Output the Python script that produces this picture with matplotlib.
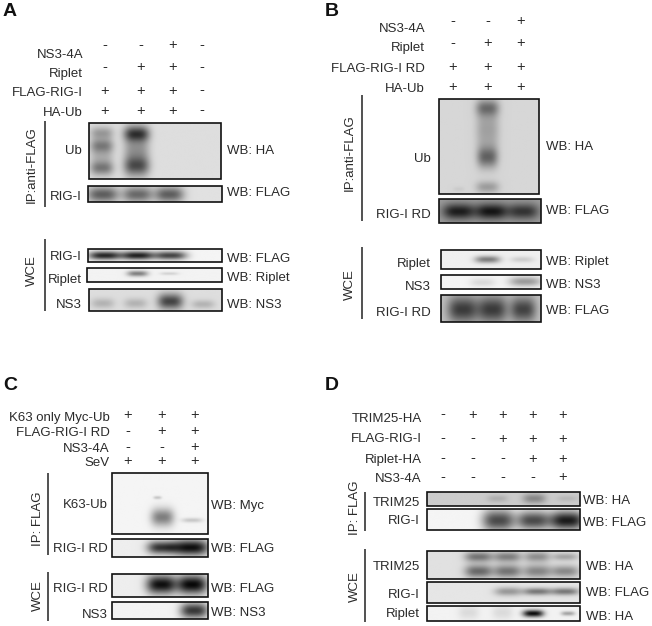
import numpy as np
import matplotlib
matplotlib.use("Agg")
import matplotlib.pyplot as plt
from matplotlib.patches import Rectangle

plt.rcParams['font.family'] = ['Liberation Sans', 'DejaVu Sans']

# (cx, cy, width, height, darkness), in reference pixels
A_UB = [(102, 133, 20, 8, .26), (102, 146, 20, 9, .3), (102, 155, 20, 26, .22), (102, 169, 20, 9, .36),
        (137, 134, 22, 10, .62), (137, 152, 22, 32, .36), (137, 167, 22, 12, .45)]
A_RIG = [(103, 195, 27, 11, .6), (138, 195, 26, 11, .55), (170, 195, 25, 11, .6)]
A_WCE_RIG = [(105, 256, 28, 6, .88), (138, 256, 28, 6, .9), (171, 256, 28, 6, .75)]
A_WCE_RIP = [(138, 274, 18, 4, .5), (170, 274, 16, 2, .15)]
A_WCE_NS3 = [(103, 304, 20, 7, .2), (136, 304, 20, 7, .2), (171, 302, 22, 11, .72), (204, 305, 20, 6, .2)]

B_UB = [(488, 108, 20, 11, .42), (488, 130, 20, 32, .26), (488, 158, 18, 14, .5), (488, 188, 20, 8, .28),
        (459, 190, 10, 3, .06)]
B_RD = [(459, 212, 28, 11, .85), (492, 212, 28, 11, .9), (524, 212, 27, 11, .7)]
B_WCE_RIP = [(488, 260, 22, 5, .5), (523, 260, 20, 4, .15)]
B_WCE_NS3 = [(483, 283, 22, 6, .12), (526, 282, 28, 7, .38)]
B_WCE_RD = [(463, 310, 26, 18, .72), (493, 310, 26, 18, .72), (524, 310, 22, 17, .68)]

C_K63 = [(163, 518, 20, 12, .5), (158, 498, 7, 2, .22), (193, 521, 18, 3, .2)]
C_RD = [(163, 548, 26, 9, .82), (192, 548, 30, 11, .97)]
C_WCE_RD = [(162, 585, 26, 13, .97), (193, 585, 26, 13, 1.0)]
C_WCE_NS3 = [(195, 611, 24, 11, .8)]

D_TRIM = [(498, 499, 18, 5, .15), (535, 499, 20, 7, .35), (568, 499, 18, 4, .1)]
D_RIG = [(499, 521, 28, 15, .72), (534, 521, 28, 13, .72), (568, 521, 30, 13, .92)]
D_WCE_TRIM = [(479, 557, 24, 7, .5), (508, 557, 24, 7, .45), (538, 557, 22, 7, .38), (566, 557, 22, 5, .28),
              (479, 572, 24, 9, .55), (508, 572, 24, 9, .5), (538, 572, 24, 9, .42), (566, 572, 24, 8, .4)]
D_WCE_RIG = [(509, 592, 24, 6, .35), (538, 592, 24, 5, .5), (566, 592, 24, 5, .5)]
D_WCE_RIP = [(469, 613, 18, 10, .1), (503, 613, 18, 10, .1), (534, 614, 18, 5, 1.0), (569, 614, 12, 3, .35)]

# x0, y0, x1, y1, background grey, bands
BLOTS = [
    (89, 123, 221, 179, .87, A_UB), (88, 186, 222, 202, .88, A_RIG),
    (88, 249, 222, 262, .96, A_WCE_RIG), (87, 268, 222, 282, .95, A_WCE_RIP),
    (89, 289, 222, 311, .87, A_WCE_NS3),
    (439, 99, 539, 194, .84, B_UB), (439, 199, 541, 223, .62, B_RD),
    (441, 250, 541, 269, .94, B_WCE_RIP), (441, 275, 541, 289, .96, B_WCE_NS3),
    (441, 295, 541, 322, .76, B_WCE_RD),
    (112, 473, 208, 534, .96, C_K63), (112, 539, 208, 557, .93, C_RD),
    (112, 574, 208, 597, .93, C_WCE_RD), (112, 602, 208, 619, .95, C_WCE_NS3),
    (427, 492, 580, 506, .8, D_TRIM), (427, 509, 580, 530, .96, D_RIG),
    (427, 551, 580, 579, .88, D_WCE_TRIM), (427, 582, 580, 603, .9, D_WCE_RIG),
    (427, 606, 580, 621, .95, D_WCE_RIP),
]

# right edge x, label/y, then sign columns
A_SIGN_X = [105, 141, 173, 202]
A_ROWS = [("NS3-4A", 53, 45, "--+-"), ("Riplet", 72, 67, "-++-"), ("FLAG-RIG-I", 92, 90, "+++-"), ("HA-Ub", 112, 110, "+++-")]
B_SIGN_X = [453, 488, 521]
B_ROWS = [("NS3-4A", 27, 21, "--+"), ("Riplet", 46, 43, "-++"), ("FLAG-RIG-I RD", 67, 66, "+++"), ("HA-Ub", 87, 87, "+++")]
C_SIGN_X = [128, 162, 195]
C_ROWS = [("K63 only Myc-Ub", 417, 415, "+++"), ("FLAG-RIG-I RD", 432, 431, "-++"), ("NS3-4A", 447, 447, "--+"), ("SeV", 462, 461, "+++")]
D_SIGN_X = [443, 473, 503, 533, 563]
D_ROWS = [("TRIM25-HA", 418, 414, "-++++"), ("FLAG-RIG-I", 438, 438, "--+++"), ("Riplet-HA", 458, 458, "---++"), ("NS3-4A", 478, 477, "----+")]
HEADERS = [(83, A_SIGN_X, A_ROWS), (425, B_SIGN_X, B_ROWS), (110, C_SIGN_X, C_ROWS), (422, D_SIGN_X, D_ROWS)]

LEFT_LABELS = [
    (82, 150, "Ub"), (82, 196, "RIG-I"), (82, 255, "RIG-I"), (82, 279, "Riplet"), (82, 303, "NS3"),
    (431, 157, "Ub"), (431, 213, "RIG-I RD"), (431, 262, "Riplet"), (431, 286, "NS3"), (431, 312, "RIG-I RD"),
    (108, 504, "K63-Ub"), (108, 548, "RIG-I RD"), (108, 587, "RIG-I RD"), (108, 613, "NS3"),
    (420, 501, "TRIM25"), (420, 520, "RIG-I"), (420, 565, "TRIM25"), (420, 594, "RIG-I"), (420, 613, "Riplet"),
]
WB_LABELS = [
    (227, 150, "WB: HA"), (227, 192, "WB: FLAG"), (227, 258, "WB: FLAG"), (227, 277, "WB: Riplet"), (227, 304, "WB: NS3"),
    (546, 145, "WB: HA"), (546, 210, "WB: FLAG"), (546, 261, "WB: Riplet"), (546, 283, "WB: NS3"), (546, 310, "WB: FLAG"),
    (211, 504, "WB: Myc"), (211, 547, "WB: FLAG"), (211, 587, "WB: FLAG"), (211, 612, "WB: NS3"),
    (583, 499, "WB: HA"), (583, 521, "WB: FLAG"), (586, 565, "WB: HA"), (586, 592, "WB: FLAG"), (586, 615, "WB: HA"),
]
SIDE_LABELS = [(32, 165, "IP:anti-FLAG"), (32, 271, "WCE"), (350, 153, "IP:anti-FLAG"), (350, 285, "WCE"),
               (38, 519, "IP: FLAG"), (38, 596, "WCE"), (355, 508, "IP: FLAG"), (355, 587, "WCE")]
SIDE_LINES = [(45, 121, 207), (45, 239, 311), (362, 95, 221), (362, 247, 319),
              (48, 473, 555), (48, 572, 621), (365, 492, 531), (365, 549, 622)]
PANELS = [(3, 12, "A"), (325, 12, "B"), (3, 385, "C"), (325, 385, "D")]

TEXT = "#2a2a2a"
FS = 9.5


def draw_blot(ax, x0, y0, x1, y1, bg, bands):
    xs = np.arange(x0, x1 + 1) + 0.5
    ys = np.arange(y0, y1 + 1) + 0.5
    xx, yy = np.meshgrid(xs, ys)
    dark = np.zeros_like(xx)
    for cx, cy, w, h, s in bands:
        # soft band, flat in the middle with blurred edges
        shape = np.exp(-(np.abs(xx - cx) / (w * 0.58)) ** 3 - (np.abs(yy - cy) / (h * 0.75)) ** 2)
        dark += s * shape
    img = bg * (1 - np.clip(dark, 0, 1) * 0.97)
    ax.imshow(img, extent=(x0, x1, y1, y0), cmap="gray", vmin=0, vmax=1,
              interpolation="bicubic", aspect="auto", zorder=1)
    ax.add_patch(Rectangle((x0, y0), x1 - x0, y1 - y0, fill=False, ec="#111111", lw=1.2, zorder=2))


fig = plt.figure(figsize=(6.52, 6.26), dpi=100)
ax = fig.add_axes([0, 0, 1, 1])

for x0, y0, x1, y1, bg, bands in BLOTS:
    draw_blot(ax, x0, y0, x1, y1, bg, bands)

ax.set_xlim(0, 652)
ax.set_ylim(626, 0)
ax.axis("off")

for right, sign_x, rows in HEADERS:
    for label, label_y, sign_y, signs in rows:
        ax.text(right, label_y + 4.5, label, ha="right", va="baseline", fontsize=FS, color=TEXT)
        for x, s in zip(sign_x, signs):
            ax.text(x, sign_y + 0.5, s, ha="center", va="center", fontsize=10.5, color=TEXT)

for x, y, s in LEFT_LABELS:
    ax.text(x, y + 4.5, s, ha="right", va="baseline", fontsize=FS, color=TEXT)
for x, y, s in WB_LABELS:
    ax.text(x, y + 4.5, s, ha="left", va="baseline", fontsize=FS, color=TEXT)
for x, y, s in SIDE_LABELS:
    ax.text(x, y, s, ha="center", va="center", rotation=90, fontsize=FS, color=TEXT)
for x, y0, y1 in SIDE_LINES:
    ax.plot([x, x], [y0, y1], color="#333333", lw=1.2, solid_capstyle="butt")
for x, y, s in PANELS:
    ax.text(x, y, s, ha="left", va="center", fontsize=14, fontweight="bold", color="#111111")

fig.savefig("out.png", dpi=100)
